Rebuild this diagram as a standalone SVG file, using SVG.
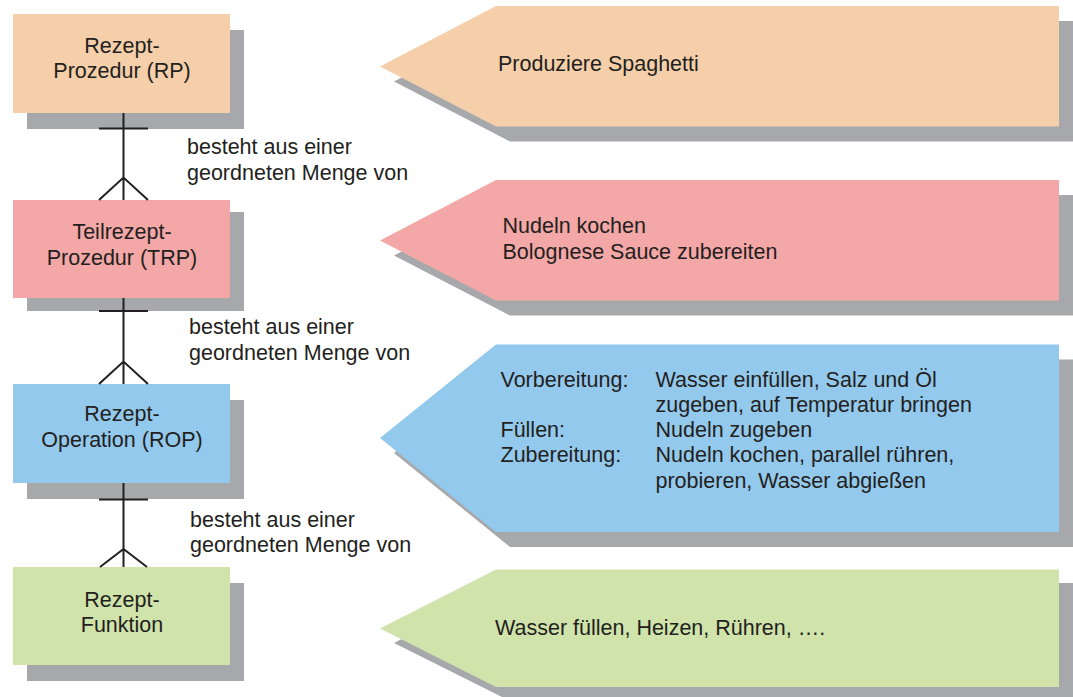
<svg xmlns="http://www.w3.org/2000/svg" width="1073" height="697" viewBox="0 0 1073 697">
  <defs>
    <style>
      text { font-family: "Liberation Sans", Arial, sans-serif; font-size: 21.5px; fill: #231f20; }
      .c { text-anchor: middle; }
      .shadow { fill: #a7a8ab; }
      .rp { fill: #f5cfa9; }
      .trp { fill: #f3a7a6; }
      .rop { fill: #93c9ed; }
      .rf { fill: #cfe3ab; }
      .link { stroke: #231f20; stroke-width: 2; fill: none; }
    </style>
  </defs>
  <rect width="1073" height="697" fill="#ffffff"/>

  <!-- hierarchy levels (left column) -->
  <g id="node-rp">
    <rect class="shadow" x="27" y="30" width="217" height="99"/>
    <rect class="rp" x="13" y="14" width="217" height="99"/>
    <text class="c" x="122" y="53">Rezept-</text>
    <text class="c" x="122" y="78">Prozedur (RP)</text>
  </g>
  <g id="node-trp">
    <rect class="shadow" x="27" y="212" width="217" height="99"/>
    <rect class="trp" x="13" y="200" width="217" height="98"/>
    <text class="c" x="122" y="239">Teilrezept-</text>
    <text class="c" x="122" y="265">Prozedur (TRP)</text>
  </g>
  <g id="node-rop">
    <rect class="shadow" x="27" y="400" width="217" height="99"/>
    <rect class="rop" x="13" y="384" width="217" height="99"/>
    <text class="c" x="122" y="421">Rezept-</text>
    <text class="c" x="122" y="446.5">Operation (ROP)</text>
  </g>
  <g id="node-rf">
    <rect class="shadow" x="27" y="583" width="217" height="98"/>
    <rect class="rf" x="13" y="567" width="217" height="98"/>
    <text class="c" x="122" y="606.5">Rezept-</text>
    <text class="c" x="122" y="631.5">Funktion</text>
  </g>

  <!-- one-to-many relationships -->
  <g id="connectors">
    <path class="link" d="M123.5 113 V200 M99 128.5 H148 M99 200 L123.5 177.5 L148 200"/>
    <path class="link" d="M123.5 298 V384 M99 311 H148 M99 384 L123.5 361.5 L148 384"/>
    <path class="link" d="M123.5 483 V567 M99 499.5 H148 M100 567 L123.5 549 L147 567"/>
    <text x="187" y="154">besteht aus einer</text>
    <text x="187" y="180">geordneten Menge von</text>
    <text x="189" y="334">besteht aus einer</text>
    <text x="189" y="360">geordneten Menge von</text>
    <text x="190" y="527">besteht aus einer</text>
    <text x="190" y="552">geordneten Menge von</text>
  </g>

  <!-- examples (right column) -->
  <g id="example-rp">
    <polygon class="shadow" points="394,81.5 510,21 1073,21 1073,141.5 510,141.5"/>
    <polygon class="rp" points="380,66.5 496,6 1059,6 1059,126.5 496,126.5"/>
    <text x="498" y="71">Produziere Spaghetti</text>
  </g>
  <g id="example-trp">
    <polygon class="shadow" points="394,255.5 510,195 1073,195 1073,315.5 510,315.5"/>
    <polygon class="trp" points="380,240.5 496,180 1059,180 1059,300.5 496,300.5"/>
    <text x="502.5" y="232.5">Nudeln kochen</text>
    <text x="502.5" y="258.5">Bolognese Sauce zubereiten</text>
  </g>
  <g id="example-rop">
    <polygon class="shadow" points="394,453 510,359.5 1073,359.5 1073,547 510,547"/>
    <polygon class="rop" points="380,438 496,344.5 1059,344.5 1059,532 496,532"/>
    <text x="500.5" y="386.5">Vorbereitung:</text>
    <text x="655.5" y="386.5">Wasser einfüllen, Salz und Öl</text>
    <text x="655.5" y="412">zugeben, auf Temperatur bringen</text>
    <text x="500.5" y="437">Füllen:</text>
    <text x="655.5" y="437">Nudeln zugeben</text>
    <text x="500.5" y="462">Zubereitung:</text>
    <text x="655.5" y="462">Nudeln kochen, parallel rühren,</text>
    <text x="655.5" y="488">probieren, Wasser abgießen</text>
  </g>
  <g id="example-rf">
    <polygon class="shadow" points="394,643 510,583 1073,583 1073,701 510,701"/>
    <polygon class="rf" points="380,628.5 496,569.5 1059,569.5 1059,687 496,687"/>
    <text x="495" y="635">Wasser füllen, Heizen, Rühren, ….</text>
  </g>
</svg>
